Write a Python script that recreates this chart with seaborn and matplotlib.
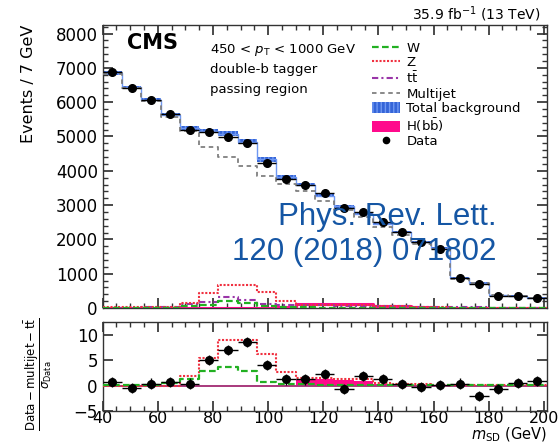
import numpy as np
import pandas as pd
import matplotlib
matplotlib.use("Agg")
import matplotlib.pyplot as plt
from matplotlib.lines import Line2D
from matplotlib.patches import Patch
from matplotlib.ticker import MultipleLocator
import seaborn as sns

# Soft-drop mass binning (GeV)
mass_low, bin_width, n_bins = 40, 7, 23
edges = mass_low + bin_width * np.arange(n_bins + 1)
centers = 0.5 * (edges[:-1] + edges[1:])

# Upper panel: event yields per 7 GeV bin
data_counts = [6884, 6414, 6050, 5650, 5190, 5140, 4993, 4816, 4230, 3770, 3574, 3348,
               2919, 2790, 2496, 2203, 1938, 1733, 881, 705, 364, 344, 294]
total_bkg = [6850, 6440, 6070, 5630, 5240, 5170, 5080, 4850, 4330, 3820, 3600, 3270,
             2960, 2750, 2460, 2210, 1920, 1760, 870, 730, 375, 350, 300]
total_bkg_unc = [45, 40, 40, 40, 60, 60, 70, 70, 60, 50, 45, 40,
                 40, 35, 30, 30, 25, 25, 20, 20, 15, 15, 15]
multijet = [6820, 6400, 6030, 5580, 5150, 4690, 4390, 4140, 3850, 3620, 3400, 3120,
            2850, 2640, 2360, 2140, 1870, 1720, 850, 715, 365, 340, 292]
w_jets = [10, 10, 10, 15, 60, 100, 217, 150, 50, 30, 20, 15,
          12, 10, 10, 8, 8, 6, 6, 5, 5, 5, 5]
z_jets = [20, 20, 25, 40, 140, 440, 667, 667, 470, 197, 100, 95,
          90, 80, 60, 45, 30, 20, 15, 10, 10, 8, 8]
ttbar = [15, 15, 20, 25, 130, 170, 310, 230, 120, 100, 90, 80,
         70, 60, 50, 45, 40, 30, 25, 20, 15, 12, 10]
higgs_bb = [0, 0, 0, 0, 0, 2, 5, 8, 15, 40, 115, 120,
            120, 110, 70, 45, 25, 15, 8, 5, 3, 2, 1]

# Lower panel: (data - multijet - ttbar) / sigma_data
pull_data = [0.65, -0.45, 0.4, 0.65, 0.4, 5.1, 7.05, 8.5, 4.1, 1.2, 1.2, 2.35,
             -0.65, 1.95, 1.35, 0.35, -0.35, 0.05, 0.4, -2.1, -0.65, 0.5, 0.95]
pull_w = [0.1, 0.1, 0.1, 0.5, 1.3, 2.8, 3.6, 2.8, 0.8, 0.4, 0.3, 0.2,
          0.2, 0.15, 0.1, 0.1, 0.1, 0.1, 0.05, 0.05, 0.05, 0.05, 0.05]
pull_z = [0.0, 0.0, 0.0, 0.0, 1.8, 5.4, 8.9, 8.9, 6.2, 2.7, 1.4, 1.4,
          1.3, 1.2, 0.6, 0.4, 0.3, 0.2, 0.15, 0.1, 0.1, 0.1, 0.1]
pull_higgs = [0, 0, 0, 0, 0, 0, 0, 0, 0, 0.1, 1.1, 1.2,
              1.1, 1.0, 0.35, 0.2, 0.1, 0, 0, 0, 0, 0, 0]

x_ticks = [40, 60, 80, 100, 120, 140, 160, 180, 200]

C_W = "#22b022"
C_Z = "#f03040"
C_TT = "#9a35a8"
C_QCD = "#808080"
C_BKG = "#3565d8"
C_BKG_EDGE = "#6f98f2"
C_H = "#ff0a8c"
C_ZERO = "#a8387c"

sns.set_theme(style="ticks")
plt.rcParams.update({
    "font.family": ["DejaVu Sans"],
    "text.color": "black", "axes.labelcolor": "black",
    "xtick.direction": "in", "ytick.direction": "in",
    "xtick.top": True, "ytick.right": True,
    "xtick.major.size": 7, "ytick.major.size": 7,
    "xtick.minor.size": 3.5, "ytick.minor.size": 3.5,
    "xtick.color": "#333333", "ytick.color": "#333333",
    "axes.edgecolor": "#333333", "axes.linewidth": 1.0,
    "xtick.labelsize": 12, "ytick.labelsize": 12,
    "xtick.labelcolor": "black", "ytick.labelcolor": "black",
})

fig = plt.figure(figsize=(5.6, 4.43), dpi=100)
ax = fig.add_axes([0.1834, 0.3047, 0.7926, 0.6389])
axr = fig.add_axes([0.1834, 0.0722, 0.7926, 0.2009])


def step(axis, values, fill=False, **kw):
    frame = pd.DataFrame({"mass": centers, "value": values})
    sns.histplot(data=frame, x="mass", weights="value", bins=list(edges),
                 element="step", fill=fill, ax=axis, **kw)


# ---- upper panel ----
lo = np.asarray(total_bkg) - np.asarray(total_bkg_unc)
hi = np.asarray(total_bkg) + np.asarray(total_bkg_unc)
ax.fill_between(edges, np.append(lo, lo[-1]), np.append(hi, hi[-1]), step="post",
                facecolor=C_BKG, edgecolor=C_BKG_EDGE, hatch="||||", linewidth=0,
                zorder=2)
step(ax, total_bkg, color=C_BKG_EDGE, linewidth=1.0, zorder=2.5)
step(ax, multijet, color=C_QCD, linewidth=1.3, linestyle=(0, (2.5, 2)), zorder=3)
step(ax, higgs_bb, color=C_H, linewidth=2.2, zorder=3)
step(ax, ttbar, color=C_TT, linewidth=1.5, linestyle=(0, (3, 1.5, 1, 1.5)), zorder=3.2)
step(ax, z_jets, color=C_Z, linewidth=1.5, linestyle=(0, (1, 0.8)), zorder=3.3)
step(ax, w_jets, color=C_W, linewidth=1.6, linestyle=(0, (3, 1.5)), zorder=3.4)
ax.errorbar(centers, data_counts, xerr=bin_width / 2, yerr=np.sqrt(data_counts),
            fmt="o", color="black", markersize=5.5, elinewidth=1.0, capsize=0,
            zorder=5)

ax.set_xlim(40, 201)
ax.set_ylim(0, 8250)
ax.set_xticks(x_ticks)
ax.xaxis.set_minor_locator(MultipleLocator(5))
ax.yaxis.set_major_locator(MultipleLocator(1000))
ax.yaxis.set_minor_locator(MultipleLocator(200))
ax.tick_params(axis="x", which="both", labelbottom=False)
ax.tick_params(which="both", top=True, right=True)
ax.set_xlabel("")
ax.set_ylabel("")

handles = [
    Line2D([], [], color=C_W, lw=1.6, ls=(0, (3, 1.5))),
    Line2D([], [], color=C_Z, lw=1.5, ls=(0, (1, 0.8))),
    Line2D([], [], color=C_TT, lw=1.5, ls=(0, (3, 1.5, 1, 1.5))),
    Line2D([], [], color=C_QCD, lw=1.3, ls=(0, (2.5, 2))),
    Patch(facecolor=C_BKG, edgecolor=C_BKG_EDGE, hatch="||||", linewidth=0),
    Patch(facecolor=C_H, edgecolor=C_H, linewidth=0),
    Line2D([], [], color="black", marker="o", markersize=4.5, ls="none"),
]
labels = ["W", "Z", r"$\mathrm{t\bar{t}}$", "Multijet", "Total background",
          r"H($\mathrm{b\bar{b}}$)", "Data"]
leg = ax.legend(handles, labels, loc="upper left",
                bbox_to_anchor=(372 / 560, 1 - 42 / 443),
                bbox_transform=fig.transFigure, frameon=False, fontsize=9.5,
                handlelength=2.1, handleheight=0.9, handletextpad=0.5,
                labelspacing=0.1, borderpad=0, borderaxespad=0)

fig.text(127 / 560, 1 - 43 / 443, "CMS", fontsize=15, fontweight="bold",
         ha="left", va="center")
fig.text(210 / 560, 1 - 50 / 443, r"450 < $p_\mathrm{T}$ < 1000 GeV", fontsize=9.5,
         ha="left", va="center")
fig.text(210 / 560, 1 - 70 / 443, "double-b tagger", fontsize=9.5,
         ha="left", va="center")
fig.text(210 / 560, 1 - 90 / 443, "passing region", fontsize=9.5,
         ha="left", va="center")
fig.text(540 / 560, 1 - 14 / 443, r"35.9 fb$^{-1}$ (13 TeV)", fontsize=10,
         ha="right", va="center")
fig.text(29 / 560, 1 - 84 / 443, "Events / 7 GeV", fontsize=11.5, rotation=90,
         ha="center", va="center")

# ---- lower panel ----
step(axr, pull_higgs, fill=True, color=C_H, alpha=1.0, linewidth=0, zorder=2)
axr.axhline(0, color=C_ZERO, linewidth=1.4, zorder=2.5)
step(axr, pull_z, color=C_Z, linewidth=1.5, linestyle=(0, (1, 0.8)), zorder=3)
step(axr, pull_w, color=C_W, linewidth=1.6, linestyle=(0, (3, 1.5)), zorder=3.2)
axr.errorbar(centers, pull_data, xerr=bin_width / 2, yerr=1.0, fmt="o",
             color="black", markersize=5.5, elinewidth=1.0, capsize=0, zorder=5)

axr.set_xlim(40, 201)
axr.set_ylim(-5, 12.5)
axr.set_xticks(x_ticks)
axr.xaxis.set_minor_locator(MultipleLocator(5))
axr.set_yticks([-5, 0, 5, 10])
axr.tick_params(which="both", top=True, right=True)
axr.tick_params(axis="x", labelsize=11.5, pad=0)
axr.set_xlabel("")
axr.set_ylabel("")

fig.text(547 / 560, 1 - 439 / 443, r"$m_\mathrm{SD}$ (GeV)", fontsize=10.5,
         ha="right", va="baseline")
fig.text(38 / 560, 1 - 374 / 443,
         r"$\dfrac{\mathrm{Data} - \mathrm{multijet} - \mathrm{t\bar{t}}}{\sigma_{\mathrm{Data}}}$",
         fontsize=8.5, rotation=90, ha="center", va="center")

# journal reference overlay
fig.text(497 / 560, 1 - 225 / 443, "Phys. Rev. Lett.", fontsize=22.5,
         family=["Liberation Sans", "DejaVu Sans"], color="#1556a4",
         ha="right", va="baseline", zorder=10)
fig.text(497 / 560, 1 - 260 / 443, "120 (2018) 071802", fontsize=22.5,
         family=["Liberation Sans", "DejaVu Sans"], color="#1556a4",
         ha="right", va="baseline", zorder=10)

fig.savefig("out.png", dpi=100)
